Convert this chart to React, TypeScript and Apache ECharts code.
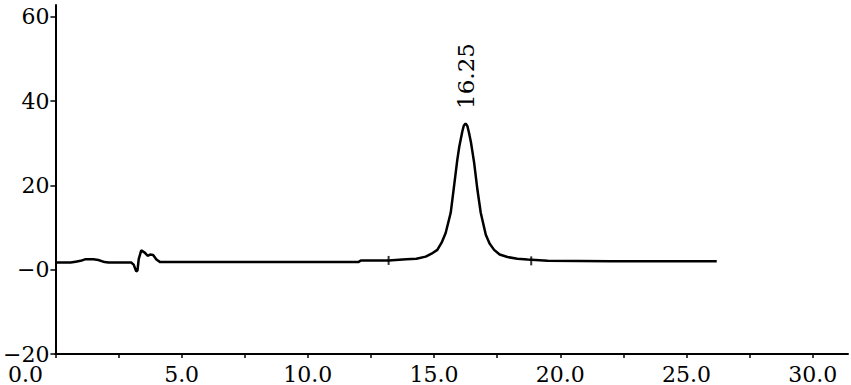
import React, { useEffect, useRef } from "react";
import * as echarts from "echarts";

// Retention time (min) and detector response of the chromatogram trace
const times = [
  0, 0.6, 0.8, 1.0, 1.2, 1.5, 1.7, 1.95, 2.1, 3.0, 3.1, 3.2, 3.25, 3.3, 3.4, 3.55, 3.65, 3.75,
  3.87, 4.0, 4.15, 6.0, 9.0, 12.0, 12.1, 13.2, 13.9, 14.3, 14.67, 14.9, 15.13, 15.3, 15.46,
  15.66, 15.79, 15.92, 16.0, 16.06, 16.12, 16.18, 16.25, 16.32, 16.38, 16.46, 16.52, 16.59,
  16.72, 16.85, 17.05, 17.2, 17.38, 17.6, 17.91, 18.3, 18.7, 19.5, 22.0, 26.2,
];
const signal = [
  1.7, 1.7, 1.9, 2.1, 2.5, 2.5, 2.3, 1.8, 1.7, 1.7, 1.2, -0.4, -0.2, 2.5, 4.6, 4.0, 3.3,
  3.6, 3.5, 2.4, 1.8, 1.8, 1.8, 1.8, 2.2, 2.2, 2.5, 2.6, 3.1, 3.8, 4.7, 6.4, 8.7, 13.5, 19.7,
  26.0, 29.2, 31.0, 32.8, 34.2, 34.7, 34.1, 32.6, 30.3, 28.0, 25.3, 18.9, 13.5, 8.3, 6.2, 4.7,
  3.6, 3.0, 2.6, 2.4, 2.1, 2.0, 2.0,
];

// Integration event marks on the baseline
const markTimes = [13.2, 18.85];
const markLevels = [2.2, 2.1];

// Peak annotation
const peakTime = 16.25;
const peakHeight = 34.7;
const peakLabel = "16.25";

// Axis settings
const xMin = 0;
const xMax = 31.4;
const xTickStep = 2.5;
const xLabelStep = 5;
const yMin = -20;
const yMax = 62.8;
const yTickStep = 20;

const FONT = "DejaVu Serif";

export default function App() {
  const ref = useRef<HTMLDivElement>(null);

  useEffect(() => {
    if (!ref.current) return;
    const chart = echarts.init(ref.current, null, { renderer: "svg" });
    const line = times.map((t, i) => [t, signal[i]]);
    const marks = markTimes.map((t, i) => [t, markLevels[i]]);

    chart.setOption({
      animation: false,
      backgroundColor: "#ffffff",
      grid: { left: 53, right: 3, top: 5, bottom: 30 },
      xAxis: {
        type: "value",
        min: xMin,
        max: xMax,
        interval: xTickStep,
        splitLine: { show: false },
        axisLine: { show: true, onZero: false, lineStyle: { color: "#000", width: 2 } },
        axisTick: { show: true, length: 4, lineStyle: { color: "#000", width: 1.5 } },
        axisLabel: {
          color: "#000",
          fontFamily: FONT,
          fontSize: 22,
          lineHeight: 18,
          margin: 11,
          showMaxLabel: false,
          formatter: (v: number) => {
            if (Math.abs(v / xLabelStep - Math.round(v / xLabelStep)) > 1e-6) return "";
            if (v === 0) return "{z|0.0}";
            return v.toFixed(1);
          },
          rich: {
            z: {
              fontFamily: FONT,
              fontSize: 22,
              lineHeight: 18,
              color: "#000",
              padding: [0, 60, 0, 0],
            },
          },
        },
      },
      yAxis: {
        type: "value",
        min: yMin,
        max: yMax,
        interval: yTickStep,
        splitLine: { show: false },
        axisLine: { show: true, onZero: false, lineStyle: { color: "#000", width: 2 } },
        axisTick: { show: true, length: 5, lineStyle: { color: "#000", width: 1.5 } },
        axisLabel: {
          color: "#000",
          fontFamily: FONT,
          fontSize: 22,
          lineHeight: 10,
          margin: 6,
          padding: [8, 0, 0, 0],
          verticalAlign: "middle",
          showMaxLabel: false,
          formatter: (v: number) => {
            if (Math.abs(v / yTickStep - Math.round(v / yTickStep)) > 1e-6) return "";
            if (v === 0) return "\u22120";
            if (v < 0) return "\u2212" + Math.abs(v);
            return String(v);
          },
        },
      },
      series: [
        {
          type: "line",
          data: line,
          showSymbol: false,
          symbol: "none",
          lineStyle: { color: "#000", width: 2.5 },
          markPoint: {
            symbol: "circle",
            symbolSize: 1,
            itemStyle: { color: "rgba(0,0,0,0)" },
            label: {
              show: true,
              formatter: peakLabel,
              position: "top",
              distance: 14,
              rotate: 90,
              align: "left",
              verticalAlign: "middle",
              color: "#000",
              fontFamily: FONT,
              fontSize: 23,
            },
            data: [{ coord: [peakTime, peakHeight], value: peakHeight }],
          },
        },
        {
          type: "scatter",
          data: marks,
          symbol: "rect",
          symbolSize: [2, 9],
          itemStyle: { color: "#000" },
          silent: true,
        },
      ],
    });
    return () => chart.dispose();
  }, []);

  return (
    <div
      ref={ref}
      style={{ position: "fixed", left: 0, top: 0, width: 851, height: 385, background: "#fff" }}
    />
  );
}
